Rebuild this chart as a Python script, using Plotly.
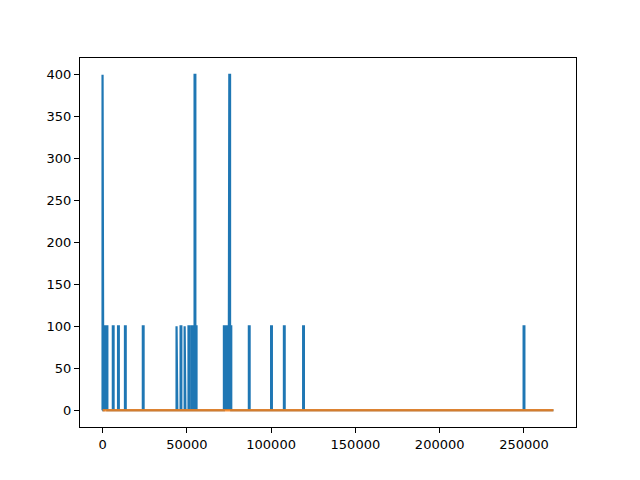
import plotly.graph_objects as go

# Spike events (x position, height)
spike_x = [0, 600, 1200, 1800, 2400, 6100, 9200, 13300, 23900,
           43900, 46300, 48700, 51000, 52800, 53600, 54600, 55300,
           72000, 72600, 73200, 73800, 74400, 75200, 75900,
           86800, 100000, 107600, 119000, 249800]
spike_h = [400, 100, 100, 100, 100, 100, 100, 100, 100,
           100, 100, 100, 100, 100, 100, 400, 100,
           100, 100, 100, 100, 100, 400, 100,
           100, 100, 100, 100, 100]
x_start = 0
x_end = 267500
spike_width = 450

# Build blue signal (baseline zero with rectangular spikes)
bx, by = [x_start], [0]
for x, h in zip(spike_x, spike_h):
    bx += [x, x, x + spike_width, x + spike_width]
    by += [0, h, h, 0]
bx.append(x_end)
by.append(0)

# Orange flat series
ox = [x_start, x_end]
oy = [0, 0]

fig = go.Figure()
fig.add_trace(go.Scatter(x=bx, y=by, mode="lines",
                         line=dict(color="#1f77b4", width=2.2), showlegend=False))
fig.add_trace(go.Scatter(x=ox, y=oy, mode="lines",
                         line=dict(color="#ff7f0e", width=2.6), opacity=0.8, showlegend=False))

span = x_end - x_start
axis_common = dict(showgrid=False, zeroline=False, showline=True, linecolor="black",
                   linewidth=1, mirror=True, ticks="outside", ticklen=5, tickwidth=1,
                   tickcolor="black", automargin=False,
                   tickfont=dict(family="DejaVu Sans", size=13, color="black"))
fig.update_layout(
    width=640, height=480,
    margin=dict(l=72, r=72, t=50, b=61),
    paper_bgcolor="white", plot_bgcolor="white",
    xaxis=dict(range=[x_start - 0.05 * span, x_end + 0.05 * span],
               tickvals=[0, 50000, 100000, 150000, 200000, 250000],
               ticktext=["0", "50000", "100000", "150000", "200000", "250000"],
               **axis_common),
    yaxis=dict(range=[-20, 420], tickvals=[0, 50, 100, 150, 200, 250, 300, 350, 400],
               **axis_common),
)
fig.write_html("out.html")
